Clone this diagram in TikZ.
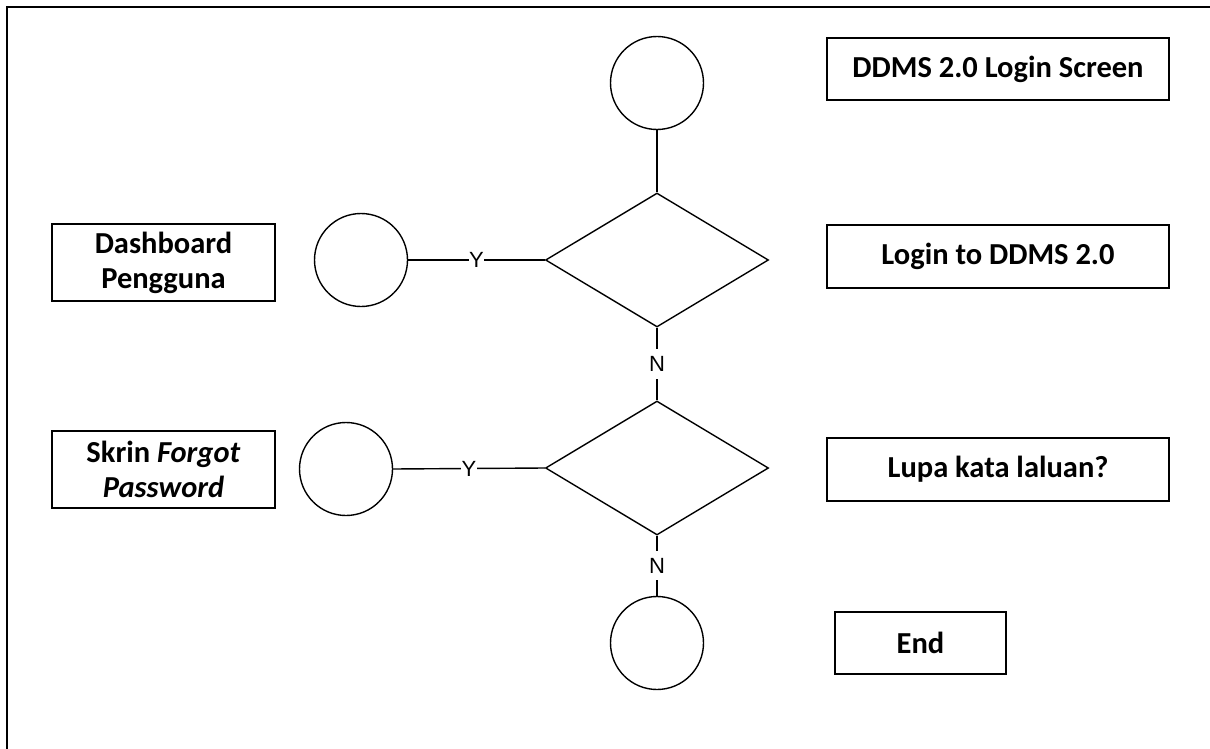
\documentclass[tikz,border=0pt]{standalone}
\usepackage{fontspec}
\setmainfont{Carlito}
\newfontfamily\labfont{Liberation Sans}
\usetikzlibrary{shapes.geometric}
\begin{document}
\begin{tikzpicture}[x=1pt,y=-1pt,
  line width=1.4pt,
  conn/.style={draw, circle, minimum size=93pt, inner sep=0pt},
  decis/.style={draw, diamond, minimum width=223pt, minimum height=134pt, inner sep=0pt},
  textbox/.style={draw, rectangle, inner sep=0pt, font=\fontsize{30.5}{35}\selectfont\bfseries, align=center},
  lab/.style={fill=white, inner xsep=0.5pt, inner ysep=7pt, font=\labfont\fontsize{22}{24}\selectfont}
]
\useasboundingbox (0,0) rectangle (1210,749);
% frame
\draw[line width=1.8pt] (7,760) -- (7,7) -- (1220,7);

% connectors (circles)
\node[conn] (c0) at (657,83) {};
\node[conn] (c1) at (361,260) {};
\node[conn] (c2) at (346,469) {};
\node[conn] (c3) at (657,643) {};

% decisions
\node[decis] (d1) at (657,260) {};
\node[decis] (d2) at (657,468) {};

% text boxes
\node[textbox, minimum width=342pt, minimum height=62pt] (t0) at (998,69) {DDMS 2.0 Login Screen};
\node[textbox, minimum width=342pt, minimum height=63pt] (t1) at (998,256.5) {Login to DDMS 2.0};
\node[textbox, minimum width=342pt, minimum height=63pt] (t2) at (998,469.5) {Lupa kata laluan?};
\node[textbox, minimum width=171pt, minimum height=62pt] (t3) at (920.5,643) {End};
\node[textbox, minimum width=223pt, minimum height=77pt] (t4) at (163.5,262.5) {Dashboard\\Pengguna};
\node[textbox, minimum width=223pt, minimum height=77pt] (t5) at (163.5,469.5) {Skrin \textit{Forgot}\\\textit{Password}};

% edges
\draw (c0) -- (d1.north);
\draw (d1.west) -- node[lab] {Y} (c1.east);
\draw (d1.south) -- node[lab] {N} (d2.north);
\draw (d2.west) -- node[lab] {Y} (c2.east);
\draw (d2.south) -- node[lab] {N} (c3.north);
\end{tikzpicture}
\end{document}
